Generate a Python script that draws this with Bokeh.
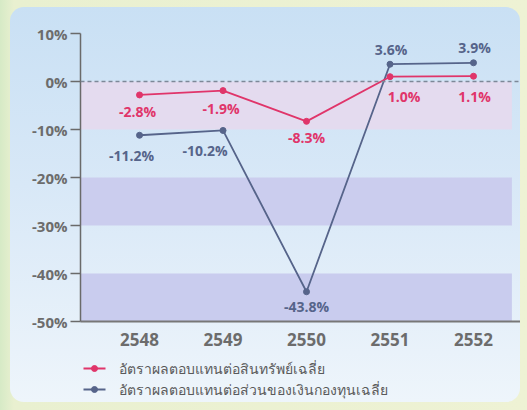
from bokeh.plotting import figure
from bokeh.models import (ColumnDataSource, BoxAnnotation, Span, FixedTicker,
                          PrintfTickFormatter, LabelSet, Range1d)
from bokeh.layouts import column
from bokeh.core.properties import value
from bokeh.embed import file_html
from bokeh.resources import INLINE

# Data: returns by Thai Buddhist-era year (percent)
years = [2548, 2549, 2550, 2551, 2552]
asset_return = [-2.8, -1.9, -8.3, 1.0, 1.1]
equity_return = [-11.2, -10.2, -43.8, 3.6, 3.9]
y_ticks = [10, 0, -10, -20, -30, -40, -50]
series_names = ["อัตราผลตอบแทนต่อสินทรัพย์เฉลี่ย",
                "อัตราผลตอบแทนต่อส่วนของเงินกองทุนเฉลี่ย"]

# Label placement (pixel nudges per point)
asset_dx = [-2, -2, 0, 14, 1]
asset_dy = [-17, -18, -16, -20, -20]
equity_dx = [-8, -18, 0, 1, 1]
equity_dy = [-20, -20, -15, 15, 15]

RED = "#e0356a"
BLUE = "#56648a"
TEXT = "#6c6c6c"

p = figure(width=510, height=352, output_backend="svg", toolbar_location=None,
           x_range=(2547.293, 2552.563), y_range=(-50, 10),
           min_border_left=70, min_border_right=0, min_border_top=26,
           min_border_bottom=38)
p.border_fill_alpha = 0
p.background_fill_alpha = 0
p.outline_line_color = None
p.grid.visible = False

# Horizontal bands
for top, bottom, col in [(0, -10, "#e4dbef"), (-20, -30, "#cbcdee"), (-40, -50, "#c9ccee")]:
    p.add_layout(BoxAnnotation(top=top, bottom=bottom, right=2552.46,
                               fill_color=col, fill_alpha=1, line_color=None,
                               level="underlay"))

p.add_layout(Span(location=0, dimension="width", line_color="#7d8898",
                  line_width=1.5, line_dash="4 3"))

# Axes
p.yaxis.ticker = FixedTicker(ticks=y_ticks)
p.yaxis.formatter = PrintfTickFormatter(format="%d%%")
p.yaxis.major_tick_out = 10
p.yaxis.major_tick_in = 0
p.yaxis.minor_tick_line_color = None
p.yaxis.axis_line_color = "#6a6a6a"
p.yaxis.axis_line_width = 1.5
p.yaxis.major_tick_line_color = "#6a6a6a"
p.yaxis.major_tick_line_width = 1.5
p.yaxis.major_label_text_font = "Open Sans"
p.yaxis.major_label_text_font_size = "15px"
p.yaxis.major_label_text_font_style = "bold"
p.yaxis.major_label_text_color = TEXT
p.yaxis.major_label_standoff = 3

p.xaxis.ticker = FixedTicker(ticks=years)
p.xaxis.major_tick_out = 0
p.xaxis.major_tick_in = 0
p.xaxis.minor_tick_line_color = None
p.xaxis.axis_line_color = "#777777"
p.xaxis.axis_line_width = 2
p.xaxis.major_label_text_font = "Open Sans"
p.xaxis.major_label_text_font_size = "17px"
p.xaxis.major_label_text_font_style = "bold"
p.xaxis.major_label_text_color = TEXT
p.xaxis.major_label_standoff = 11

src_a = ColumnDataSource(dict(x=years, y=asset_return,
                              t=[f"{v:.1f}%" for v in asset_return],
                              dx=asset_dx, dy=asset_dy))
src_e = ColumnDataSource(dict(x=years, y=equity_return,
                              t=[f"{v:.1f}%" for v in equity_return],
                              dx=equity_dx, dy=equity_dy))

p.line("x", "y", source=src_e, line_color=BLUE, line_width=1.8)
p.scatter("x", "y", source=src_e, size=6, fill_color=BLUE, line_color=BLUE)
p.line("x", "y", source=src_a, line_color=RED, line_width=1.8)
p.scatter("x", "y", source=src_a, size=6, fill_color=RED, line_color=RED)

for src, col in [(src_a, RED), (src_e, BLUE)]:
    p.add_layout(LabelSet(x="x", y="y", text="t", source=src,
                          x_offset="dx", y_offset="dy",
                          text_align="center", text_baseline="middle",
                          text_font=value("Open Sans"), text_font_size="14px",
                          text_font_style="bold", text_color=col))

# Legend strip under the chart, in pixel units from the panel's left edge
# (its frame lines up with the chart frame; y grows downward)
leg = figure(width=510, height=43, output_backend="svg", toolbar_location=None,
             x_range=Range1d(70, 510), y_range=Range1d(43, 0),
             x_axis_location=None, y_axis_location=None,
             min_border_left=70, min_border_right=0, min_border_top=0,
             min_border_bottom=0)
leg.border_fill_alpha = 0
leg.background_fill_alpha = 0
leg.outline_line_color = None
leg.grid.visible = False

key_rows = [9, 30]
key_colors = [RED, BLUE]
leg.segment(x0=[73, 73], x1=[95, 95], y0=key_rows, y1=key_rows,
            line_color=key_colors, line_width=1.8)
leg.scatter(x=[84, 84], y=key_rows, size=6, fill_color=key_colors,
            line_color=key_colors)
leg.text(x=[108, 108], y=key_rows, text=series_names,
         text_font=value("Noto Sans"), text_font_size="14px",
         text_baseline="middle", text_color="#5a5a5a")

panel = column(p, leg, width=510, height=395, spacing=0,
               margin=(7, 7, 8, 10),
               styles={"border-radius": "14px",
                       "background": "linear-gradient(180deg, #c9e0f4 0%, #d8e8f7 45%, #eef5fb 100%)"})

root = column(panel, width=527, height=410,
              styles={"background": "linear-gradient(90deg, #d6eac6 0px, #e9f0d0 14px, #eef2d4 100%)"})

open("out.html", "w").write(file_html(root, INLINE))
